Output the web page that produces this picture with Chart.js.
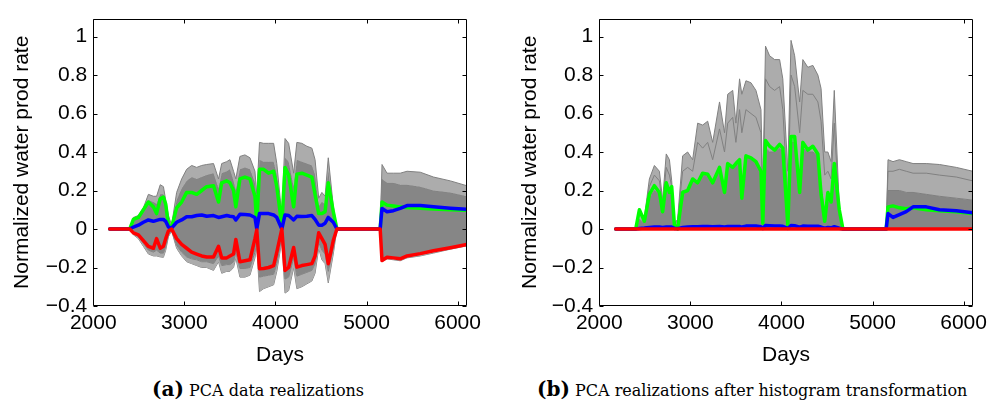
<!DOCTYPE html>
<html>
<head>
<meta charset="utf-8">
<script src="https://cdn.jsdelivr.net/npm/chart.js@4.4.1/dist/chart.umd.min.js"></script>
<style>
  html, body { margin: 0; padding: 0; background: #fff; }
  #wrap { position: relative; width: 997px; height: 402px; overflow: hidden; background: #fff; }
  canvas { position: absolute; top: 0; }
  #ca { left: 0; }
  #cb { left: 499px; }
  .cap { position: absolute; top: 377px; white-space: nowrap; font-family: "DejaVu Serif", serif; color: #000; }
  .cap b { font-size: 20px; font-weight: bold; }
  .cap span { font-size: 16px; }
</style>
</head>
<body>
<div id="wrap">
  <canvas id="ca" width="498" height="372"></canvas>
  <canvas id="cb" width="498" height="372"></canvas>
  <div class="cap" id="capA" style="left:152px"><b>(a)</b> <span>PCA data realizations</span></div>
  <div class="cap" id="capB" style="left:537px"><b>(b)</b> <span>PCA realizations after histogram transformation</span></div>
</div>
<script>
// ---------- DATA ----------
const days = [
  2180, 2400, 2440, 2495, 2550, 2605, 2660, 2695, 2735, 2770,
  2795, 2825, 2860, 2915, 2970, 3025, 3080, 3135, 3190, 3245,
  3320, 3375, 3410, 3465, 3500, 3540, 3565, 3610, 3665, 3720,
  3775, 3795, 3825, 3870, 3925, 3980, 4015, 4070, 4105, 4145,
  4200, 4235, 4290, 4345, 4400, 4435, 4475, 4510, 4545, 4580,
  4635, 4675, 5150, 5170, 5225, 5295, 5370, 5445, 5590, 5735,
  5920, 6100
];

// Panel (a): PCA data realizations
const greenA = [
  0, 0, 0.05, 0.06, 0.10, 0.14, 0.115, 0.08, 0.157, 0.166,
  0.13, 0.02, 0.01, 0.11, 0.14, 0.19, 0.19, 0.18, 0.20, 0.22,
  0.225, 0.14, 0.24, 0.25, 0.24, 0.20, 0.115, 0.26, 0.27, 0.26,
  0.17, 0.03, 0.31, 0.31, 0.29, 0.30, 0.22, 0.02, 0.32, 0.28,
  0.115, 0.285, 0.29, 0.28, 0.27, 0.18, 0.08, 0.08, 0.09, 0.24,
  0.09, 0, 0, 0.14, 0.124, 0.12, 0.115, 0.112, 0.108, 0.104,
  0.10, 0.098
];
const blueA = [
  0, 0, 0.01, 0.02, 0.035, 0.047, 0.04, 0.045, 0.05, 0.05,
  0.04, 0.01, 0.005, 0.035, 0.047, 0.064, 0.064, 0.07, 0.073, 0.066,
  0.07, 0.06, 0.064, 0.07, 0.066, 0.064, 0.047, 0.076, 0.075, 0.073,
  0.06, 0, 0.08, 0.08, 0.08, 0.073, 0.06, 0, 0.073, 0.07,
  0.047, 0.066, 0.065, 0.066, 0.07, 0.05, 0.02, 0.02, 0.03, 0.06,
  0.035, 0, 0, 0.107, 0.09, 0.095, 0.107, 0.122, 0.122, 0.115,
  0.108, 0.103
];
const redA = [
  0, 0, -0.02, -0.03, -0.06, -0.09, -0.10, -0.05, -0.10, -0.09,
  -0.05, -0.01, 0, -0.05, -0.08, -0.10, -0.12, -0.13, -0.14, -0.145,
  -0.145, -0.09, -0.15, -0.15, -0.14, -0.13, -0.054, -0.17, -0.165, -0.16,
  -0.05, -0.005, -0.206, -0.205, -0.2, -0.19, -0.12, 0, -0.215, -0.2,
  -0.096, -0.198, -0.19, -0.185, -0.18, -0.14, -0.02, -0.05, -0.08, -0.18,
  -0.06, 0, 0, -0.164, -0.147, -0.15, -0.155, -0.14, -0.128, -0.113,
  -0.097, -0.08
];
const grayMaxA = [
  0, 0, 0.06, 0.07, 0.11, 0.18, 0.17, 0.17, 0.23, 0.22,
  0.15, 0.07, 0.02, 0.19, 0.26, 0.31, 0.33, 0.32, 0.33, 0.335,
  0.34, 0.26, 0.34, 0.35, 0.36, 0.30, 0.26, 0.377, 0.385, 0.37,
  0.30, 0.18, 0.45, 0.445, 0.445, 0.445, 0.34, 0.07, 0.47, 0.445,
  0.29, 0.45, 0.445, 0.43, 0.42, 0.36, 0.16, 0.19, 0.17, 0.37,
  0.12, 0, 0, 0.335, 0.29, 0.29, 0.29, 0.30, 0.295, 0.27,
  0.25, 0.225
];
const grayHiA = [
  0, 0, 0.05, 0.06, 0.10, 0.15, 0.14, 0.13, 0.18, 0.18,
  0.13, 0.05, 0.015, 0.15, 0.21, 0.25, 0.27, 0.26, 0.27, 0.28,
  0.29, 0.21, 0.29, 0.30, 0.31, 0.25, 0.20, 0.31, 0.32, 0.31,
  0.24, 0.13, 0.36, 0.35, 0.35, 0.35, 0.28, 0.05, 0.37, 0.35,
  0.22, 0.36, 0.35, 0.34, 0.33, 0.28, 0.12, 0.14, 0.13, 0.30,
  0.10, 0, 0, 0.26, 0.24, 0.24, 0.23, 0.23, 0.22, 0.20,
  0.19, 0.17
];
const grayLoA = [
  0, 0, -0.025, -0.04, -0.075, -0.11, -0.12, -0.11, -0.125, -0.125,
  -0.09, -0.03, -0.008, -0.085, -0.12, -0.145, -0.155, -0.16, -0.17, -0.17,
  -0.18, -0.14, -0.19, -0.185, -0.185, -0.17, -0.12, -0.205, -0.205, -0.20,
  -0.12, -0.07, -0.25, -0.245, -0.24, -0.235, -0.18, -0.04, -0.26, -0.25,
  -0.15, -0.245, -0.235, -0.225, -0.215, -0.18, -0.07, -0.11, -0.13, -0.22,
  -0.10, 0, 0, -0.15, -0.14, -0.145, -0.15, -0.137, -0.127, -0.113,
  -0.095, -0.08
];
const grayMinA = [
  0, 0, -0.03, -0.05, -0.09, -0.13, -0.14, -0.14, -0.145, -0.147,
  -0.11, -0.04, -0.01, -0.10, -0.14, -0.17, -0.18, -0.19, -0.20, -0.20,
  -0.215, -0.17, -0.23, -0.22, -0.22, -0.20, -0.15, -0.25, -0.25, -0.24,
  -0.15, -0.09, -0.325, -0.31, -0.30, -0.29, -0.22, -0.06, -0.333, -0.32,
  -0.20, -0.31, -0.30, -0.285, -0.27, -0.23, -0.10, -0.16, -0.18, -0.28,
  -0.13, 0, 0, -0.17, -0.155, -0.16, -0.165, -0.15, -0.14, -0.125,
  -0.105, -0.088
];

// Panel (b): PCA realizations after histogram transformation
const greenB = [
  0, 0, 0.10, 0.04, 0.18, 0.225, 0.19, 0.09, 0.24, 0.19,
  0.22, 0.02, 0, 0.19, 0.20, 0.26, 0.24, 0.29, 0.285, 0.24,
  0.32, 0.19, 0.34, 0.32, 0.34, 0.36, 0.16, 0.38, 0.37, 0.35,
  0.30, 0.03, 0.46, 0.43, 0.41, 0.44, 0.42, 0.02, 0.48, 0.48,
  0.19, 0.45, 0.41, 0.43, 0.39, 0.18, 0.04, 0.19, 0.14, 0.34,
  0.10, 0, 0, 0.115, 0.12, 0.11, 0.105, 0.11, 0.10, 0.095,
  0.09, 0.08
];
const blueB = [
  0, 0, 0.003, 0.005, 0.008, 0.01, 0.01, 0.008, 0.01, 0.01,
  0.01, 0.003, 0.002, 0.008, 0.01, 0.012, 0.012, 0.013, 0.013, 0.012,
  0.013, 0.01, 0.013, 0.013, 0.013, 0.013, 0.01, 0.015, 0.015, 0.015,
  0.012, 0.003, 0.018, 0.017, 0.016, 0.016, 0.014, 0.003, 0.018, 0.017,
  0.01, 0.015, 0.014, 0.014, 0.014, 0.01, 0.004, 0.008, 0.006, 0.012,
  0.004, 0, 0, 0.08, 0.06, 0.075, 0.09, 0.115, 0.115, 0.10,
  0.095, 0.085
];
const redB = [
  0, 0, 0, 0, 0, 0, 0, 0, 0, 0,
  0, 0, 0, 0, 0, 0, 0, 0, 0, 0,
  0, 0, 0, 0, 0, 0, 0, 0, 0, 0,
  0, 0, 0, 0, 0, 0, 0, 0, 0, 0,
  0, 0, 0, 0, 0, 0, 0, 0, 0, 0,
  0, 0, 0, 0, 0, 0, 0, 0, 0, 0,
  0, 0
];
const grayMaxB = [
  0, 0, 0.10, 0.06, 0.26, 0.33, 0.30, 0.15, 0.39, 0.36,
  0.25, 0.03, 0.05, 0.38, 0.40, 0.36, 0.55, 0.54, 0.56, 0.45,
  0.66, 0.50, 0.70, 0.72, 0.55, 0.78, 0.70, 0.77, 0.76, 0.72,
  0.62, 0.20, 0.95, 0.90, 0.88, 0.88, 0.78, 0.30, 0.98, 0.90,
  0.66, 0.88, 0.84, 0.85, 0.80, 0.73, 0.40, 0.40, 0.35, 0.72,
  0.12, 0, 0, 0.36, 0.35, 0.36, 0.35, 0.34, 0.34, 0.335,
  0.32, 0.30
];
const grayMidB = [
  0, 0, 0.08, 0.05, 0.22, 0.28, 0.25, 0.12, 0.32, 0.28,
  0.22, 0.03, 0.04, 0.30, 0.32, 0.30, 0.45, 0.42, 0.45, 0.36,
  0.52, 0.40, 0.55, 0.58, 0.45, 0.62, 0.50, 0.62, 0.60, 0.58,
  0.50, 0.12, 0.78, 0.74, 0.72, 0.74, 0.62, 0.15, 0.80, 0.74,
  0.50, 0.72, 0.70, 0.70, 0.66, 0.56, 0.28, 0.30, 0.26, 0.55,
  0.08, 0, 0, 0.30, 0.30, 0.31, 0.30, 0.29, 0.29, 0.28,
  0.27, 0.25
];
const grayDenseB = [
  0, 0, 0.05, 0.03, 0.16, 0.20, 0.18, 0.08, 0.22, 0.18,
  0.18, 0.02, 0.02, 0.20, 0.20, 0.25, 0.25, 0.28, 0.29, 0.25,
  0.32, 0.22, 0.33, 0.33, 0.33, 0.36, 0.20, 0.37, 0.37, 0.35,
  0.30, 0.05, 0.42, 0.40, 0.40, 0.42, 0.40, 0.05, 0.45, 0.45,
  0.22, 0.42, 0.40, 0.40, 0.38, 0.22, 0.08, 0.18, 0.15, 0.32,
  0.06, 0, 0, 0.20, 0.20, 0.20, 0.19, 0.19, 0.18, 0.17,
  0.16, 0.15
];

const xTicks = [2000, 3000, 4000, 5000, 6000];
const yTicks = [-0.4, -0.2, 0, 0.2, 0.4, 0.6, 0.8, 1];
const yTickLabels = ['\u22120.4', '\u22120.2', '0', '0.2', '0.4', '0.6', '0.8', '1'];
const xTitle = 'Days';
const yTitle = 'Normalized water prod rate';

// ---------- RENDERING ----------
const FONT = { family: '"Liberation Sans", Arial, Helvetica, sans-serif', size: 21 };

const boxPlugin = {
  id: 'matlabBox',
  afterDraw(chart) {
    const { ctx, chartArea: a, scales: { x, y } } = chart;
    ctx.save();
    ctx.strokeStyle = '#000';
    ctx.lineWidth = 1;
    ctx.beginPath();
    const L = Math.round(a.left) + 0.5, R = Math.round(a.right) - 0.5;
    const T = Math.round(a.top) + 0.5, B = Math.round(a.bottom) - 0.5;
    ctx.rect(L, T, R - L, B - T);
    const tl = 4;
    xTicks.forEach(v => {
      const px = Math.round(x.getPixelForValue(v)) + 0.5;
      ctx.moveTo(px, B); ctx.lineTo(px, B - tl);
      ctx.moveTo(px, T); ctx.lineTo(px, T + tl);
    });
    yTicks.forEach(v => {
      const py = Math.round(y.getPixelForValue(v)) + 0.5;
      ctx.moveTo(L, py); ctx.lineTo(L + tl, py);
      ctx.moveTo(R, py); ctx.lineTo(R - tl, py);
    });
    ctx.stroke();
    ctx.restore();
  }
};

function lineDs(data, color, width, order, extra) {
  return Object.assign({
    data: data.map((v, i) => ({ x: days[i], y: v })),
    borderColor: color,
    backgroundColor: color,
    borderWidth: width,
    pointRadius: 0,
    tension: 0,
    fill: false,
    order: order,
    borderJoinStyle: 'round',
    borderCapStyle: 'round'
  }, extra || {});
}

function makeChart(id, datasets, yAxisWidth, titleOffset, rightPad) {
  return new Chart(document.getElementById(id), {
    type: 'line',
    data: { datasets },
    plugins: [boxPlugin],
    options: {
      responsive: false,
      animation: false,
      devicePixelRatio: 1,
      layout: { padding: { left: 0, right: rightPad, top: 12, bottom: 0 } },
      plugins: { legend: { display: false }, tooltip: { enabled: false } },
      scales: {
        x: {
          type: 'linear', min: 2000, max: 6100,
          afterBuildTicks: s => { s.ticks = xTicks.map(v => ({ value: v })); },
          afterFit: s => { s.height = 66; },
          grid: { display: false, drawTicks: false },
          border: { display: false },
          ticks: { font: FONT, color: '#000', padding: 5, maxRotation: 0, autoSkip: false, callback: v => String(v) },
          title: { display: true, text: xTitle, font: FONT, color: '#000', padding: { top: 0, bottom: 4 } }
        },
        y: {
          type: 'linear', min: -0.4, max: 1.093,
          afterBuildTicks: s => { s.ticks = yTicks.map(v => ({ value: v })); },
          afterFit: s => { s.width = yAxisWidth; },
          grid: { display: false, drawTicks: false },
          border: { display: false },
          ticks: { font: FONT, color: '#000', padding: 6, autoSkip: false,
                   callback: v => yTickLabels[yTicks.indexOf(v)] },
          title: { display: true, text: yTitle, font: FONT, color: '#000', padding: { top: titleOffset, bottom: 0 } }
        }
      }
    }
  });
}

const GRAY = '#808080';
const DENSE = '#868686';
const LIGHT = '#acacac';

makeChart('ca', [
  lineDs(redA, '#ff0000', 3.5, 0),
  lineDs(blueA, '#0000ff', 3.5, 1),
  lineDs(greenA, '#00ff00', 3.5, 2),
  lineDs(grayMaxA, GRAY, 1, 3, { fill: 4, backgroundColor: LIGHT }),
  lineDs(grayHiA, GRAY, 1, 4, { fill: 5, backgroundColor: DENSE }),
  lineDs(grayLoA, GRAY, 1, 5, { fill: 6, backgroundColor: LIGHT }),
  lineDs(grayMinA, GRAY, 1, 6)
], 93.3, 9.4, 31.3);

makeChart('cb', [
  lineDs(redB, '#ff0000', 3.5, 0),
  lineDs(blueB, '#0000ff', 3.5, 1),
  lineDs(greenB, '#00ff00', 3.5, 2),
  lineDs(grayMaxB, GRAY, 1, 5, { fill: 5, backgroundColor: LIGHT }),
  lineDs(grayMidB, GRAY, 1, 3),
  lineDs(grayDenseB, GRAY, 1, 4, { fill: { value: 0 }, backgroundColor: DENSE })
], 100.3, 18.4, 24.3);
</script>
</body>
</html>
